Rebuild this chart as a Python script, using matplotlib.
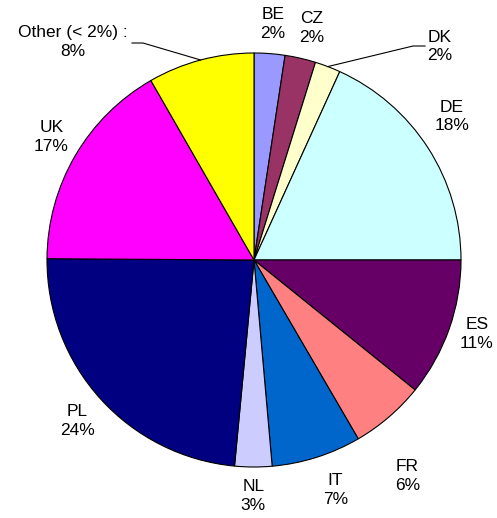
import numpy as np
import matplotlib
matplotlib.use("Agg")
import matplotlib.pyplot as plt

# ---- data ----
countries = ["BE", "CZ", "DK", "DE", "ES", "FR", "IT", "NL", "PL", "UK", "Other (< 2%) :"]
shares = [2.4, 2.4, 2.0, 18.2, 10.8, 5.8, 7.0, 2.9, 23.6, 16.6, 8.3]
colors = ["#9999FF", "#993366", "#FFFFCC", "#CCFFFF", "#660066", "#FF8080",
          "#0066CC", "#CCCCFF", "#000080", "#FF00FF", "#FFFF00"]

# ---- layout (label placement: radial distance, angular tweak in degrees) ----
label_layout = {
    "BE": (1.145, 0.3), "CZ": (1.155, 1.0), "DE": (1.18, -3.2),
    "ES": (1.135, -1.0), "FR": (1.28, 5.3), "IT": (1.18, -1.8),
    "NL": (1.14, 0.0), "PL": (1.155, -0.3), "UK": (1.145, 1.0),
}

plt.rcParams["font.family"] = ["Liberation Sans", "DejaVu Sans"]
FS = 12.5
LS = 1.32

W, H = 497, 518
cx, cy, R = 254, 260, 207
fig = plt.figure(figsize=(W / 100, H / 100), dpi=100)
ax = fig.add_axes([0, 0, 1, 1])
ax.pie(shares, colors=colors, startangle=90, counterclock=False, radius=1,
       wedgeprops=dict(edgecolor="black", linewidth=0.8))
ax.set_xlim(-cx / R, (W - cx) / R)
ax.set_ylim((cy - H) / R, cy / R)
ax.set_aspect("equal")
ax.axis("off")

total = sum(shares)
cum = 0.0
for name, v in zip(countries, shares):
    start = cum / total * 360
    cum += v
    end = cum / total * 360
    mid = (start + end) / 2
    txt = f"{name}\n{round(v / total * 100):.0f}%"
    if name in label_layout:
        d, dt = label_layout[name]
        th = np.radians(90 - (mid + dt))
        ax.text(d * np.cos(th), d * np.sin(th), txt, ha="center", va="center",
                multialignment="center", fontsize=FS, linespacing=LS)
    else:
        th = np.radians(90 - mid)
        p0 = (np.cos(th), np.sin(th))
        if name == "DK":
            elbow = ((413 - cx) / R, (cy - 46) / R)
            tip = ((425 - cx) / R, (cy - 46) / R)
            ax.plot([p0[0], elbow[0], tip[0]], [p0[1], elbow[1], tip[1]],
                    color="black", lw=0.8)
            ax.text((427 - cx) / R, (cy - 46.5) / R, txt, ha="left", va="center",
                    multialignment="center", fontsize=FS, linespacing=LS)
        else:
            elbow = ((143 - cx) / R, (cy - 43) / R)
            tip = ((132 - cx) / R, (cy - 43) / R)
            ax.plot([p0[0], elbow[0], tip[0]], [p0[1], elbow[1], tip[1]],
                    color="black", lw=0.8)
            ax.text((128 - cx) / R, (cy - 42) / R, txt, ha="right", va="center",
                    multialignment="center", fontsize=FS, linespacing=LS)

fig.savefig("out.png", dpi=100)
